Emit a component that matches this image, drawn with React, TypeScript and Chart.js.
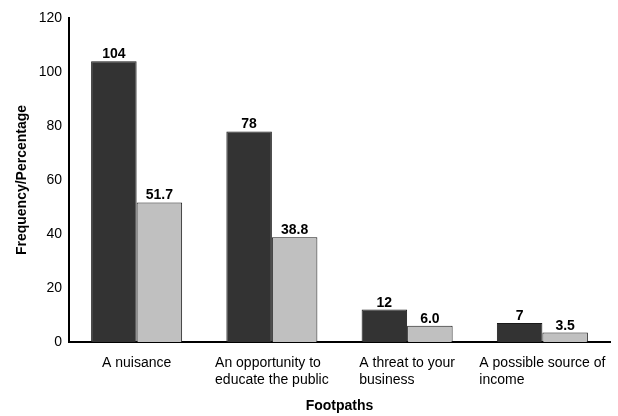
import React, { useEffect, useRef } from 'react';
import { Chart, registerables } from 'chart.js';

Chart.register(...registerables);

const categories: string[][] = [
  ['A nuisance'],
  ['An opportunity to', 'educate the public'],
  ['A threat to your', 'business'],
  ['A possible source of', 'income'],
];
const frequency = [104, 78, 12, 7];
const percentage = [51.7, 38.8, 6.0, 3.5];
const frequencyLabels = ['104', '78', '12', '7'];
const percentageLabels = ['51.7', '38.8', '6.0', '3.5'];
const yMin = 0;
const yMax = 120;
const yStep = 20;
const xTitle = 'Footpaths';
const yTitle = 'Frequency/Percentage';

const FONT = '"Liberation Sans", Arial, Helvetica, sans-serif';

const xLabelPlugin = {
  id: 'xLabelPlugin',
  afterDraw(chart: any) {
    const ctx = chart.ctx;
    const xs = chart.scales.x;
    ctx.save();
    ctx.font = `14px ${FONT}`;
    ctx.fillStyle = '#000';
    ctx.textAlign = 'left';
    ctx.textBaseline = 'alphabetic';
    categories.forEach((lines, i) => {
      const cx = xs.getPixelForValue(i);
      const w = Math.max(...lines.map((l) => ctx.measureText(l).width));
      lines.forEach((l, j) => {
        ctx.fillText(l, cx - w / 2, xs.top + 24.5 + j * 17);
      });
    });
    ctx.restore();
  },
};

const valueLabelPlugin = {
  id: 'valueLabelPlugin',
  afterDatasetsDraw(chart: any) {
    const ctx = chart.ctx;
    const labelSets = [frequencyLabels, percentageLabels];
    ctx.save();
    ctx.font = `bold 14px ${FONT}`;
    ctx.fillStyle = '#000';
    ctx.textAlign = 'center';
    ctx.textBaseline = 'alphabetic';
    chart.data.datasets.forEach((_: any, di: number) => {
      const meta = chart.getDatasetMeta(di);
      meta.data.forEach((el: any, i: number) => {
        ctx.fillText(labelSets[di][i], el.x, el.y - 3);
      });
    });
    ctx.restore();
  },
};

export default function App() {
  const ref = useRef<HTMLCanvasElement | null>(null);

  useEffect(() => {
    if (!ref.current) return;
    Chart.defaults.font.family = FONT;
    const chart = new Chart(ref.current, {
      type: 'bar',
      data: {
        labels: categories.map((c) => c.join(' ')),
        datasets: [
          {
            label: 'Frequency',
            data: frequency,
            backgroundColor: '#333333',
            borderColor: '#1a1a1a',
            borderWidth: 1,
            barPercentage: 1,
            categoryPercentage: 0.673,
          },
          {
            label: 'Percentage',
            data: percentage,
            backgroundColor: '#c0c0c0',
            borderColor: '#1a1a1a',
            borderWidth: 1,
            barPercentage: 1,
            categoryPercentage: 0.673,
          },
        ],
      },
      options: {
        animation: false,
        responsive: false,
        maintainAspectRatio: false,
        layout: { padding: { top: 18, right: 8, bottom: 0, left: 0 } },
        plugins: {
          legend: { display: false },
          tooltip: { enabled: false },
        },
        scales: {
          x: {
            grid: { display: false, drawTicks: false },
            border: { display: true, color: '#000', width: 2 },
            ticks: { display: false },
            title: {
              display: true,
              text: xTitle,
              color: '#000',
              font: { size: 14, weight: 'bold', family: FONT },
              padding: { top: 0, bottom: 1 },
            },
            afterFit(scale: any) {
              scale.height = 74;
            },
          },
          y: {
            min: yMin,
            max: yMax,
            grid: { display: false, drawTicks: false },
            border: { display: true, color: '#000', width: 2 },
            ticks: {
              stepSize: yStep,
              color: '#000',
              padding: 7,
              font: { size: 14, family: FONT },
            },
            title: {
              display: true,
              text: yTitle,
              color: '#000',
              font: { size: 14, weight: 'bold', family: FONT },
              padding: { top: 14, bottom: 0 },
            },
            afterFit(scale: any) {
              scale.width = 69;
            },
          },
        },
      },
      plugins: [xLabelPlugin, valueLabelPlugin],
    });
    return () => chart.destroy();
  }, []);

  return (
    <div style={{ position: 'fixed', left: 0, top: 0, width: 618, height: 416, background: '#fff' }}>
      <canvas ref={ref} width={618} height={416} style={{ width: 618, height: 416, display: 'block' }} />
    </div>
  );
}
